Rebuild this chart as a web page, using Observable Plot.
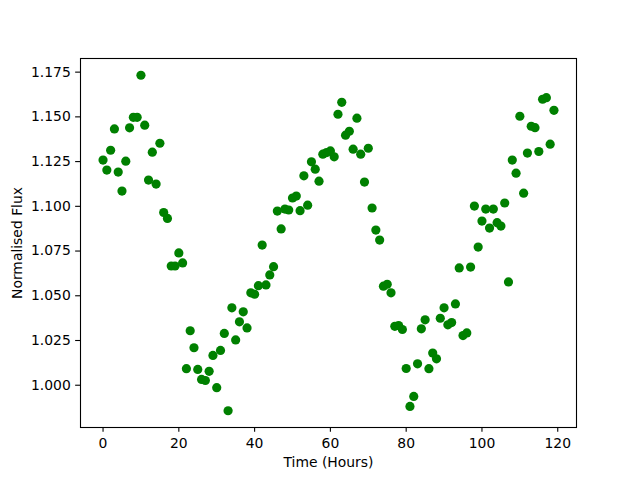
<!DOCTYPE html>
<html>
<head>
<meta charset="utf-8">
<script src="https://cdn.jsdelivr.net/npm/d3@7"></script>
<script src="https://cdn.jsdelivr.net/npm/@observablehq/plot@0.6"></script>
<style>
  html, body { margin: 0; padding: 0; background: white; }
</style>
</head>
<body>
<div id="chart"></div>
<script>
const hours = [
  0, 1, 2, 3, 4, 5, 6, 7, 8, 9,
  10, 11, 12, 13, 14, 15, 16, 17, 18, 19,
  20, 21, 22, 23, 24, 25, 26, 27, 28, 29,
  30, 31, 32, 33, 34, 35, 36, 37, 38, 39,
  40, 41, 42, 43, 44, 45, 46, 47, 48, 49,
  50, 51, 52, 53, 54, 55, 56, 57, 58, 59,
  60, 61, 62, 63, 64, 65, 66, 67, 68, 69,
  70, 71, 72, 73, 74, 75, 76, 77, 78, 79,
  80, 81, 82, 83, 84, 85, 86, 87, 88, 89,
  90, 91, 92, 93, 94, 95, 96, 97, 98, 99,
  100, 101, 102, 103, 104, 105, 106, 107, 108, 109,
  110, 111, 112, 113, 114, 115, 116, 117, 118, 119
];

const flux = [
  1.1254, 1.1198, 1.1309, 1.1428, 1.1187, 1.1081, 1.1248, 1.1434, 1.1493, 1.1493,
  1.1728, 1.1449, 1.1142, 1.1298, 1.1120, 1.1348, 1.0961, 1.0928, 1.0662, 1.0662,
  1.0735, 1.0679, 1.0088, 1.0300, 1.0205, 1.0084, 1.0028, 1.0022, 1.0073, 1.0162,
  0.9982, 1.0190, 1.0285, 0.9853, 1.0428, 1.0249, 1.0350, 1.0406, 1.0316, 1.0512,
  1.0504, 1.0552, 1.0779, 1.0556, 1.0612, 1.0658, 1.0969, 1.0869, 1.0980, 1.0975,
  1.1042, 1.1053, 1.0971, 1.1166, 1.1002, 1.1244, 1.1203, 1.1136, 1.1287, 1.1296,
  1.1305, 1.1272, 1.1510, 1.1577, 1.1393, 1.1415, 1.1315, 1.1488, 1.1287, 1.1131,
  1.1320, 1.0986, 1.0863, 1.0807, 1.0549, 1.0560, 1.0512, 1.0325, 1.0329, 1.0307,
  1.0089, 0.9877, 0.9933, 1.0115, 1.0311, 1.0361, 1.0088, 1.0175, 1.0143, 1.0370,
  1.0428, 1.0333, 1.0346, 1.0450, 1.0651, 1.0273, 1.0288, 1.0656, 1.0997, 1.0768,
  1.0913, 1.0980, 1.0874, 1.0980, 1.0904, 1.0885, 1.1014, 1.0573, 1.1254, 1.1181,
  1.1499, 1.1069, 1.1293, 1.1443, 1.1435, 1.1302, 1.1594, 1.1603, 1.1343, 1.1532
];

const xTicks = [0, 20, 40, 60, 80, 100, 120];
const yTicks = [1.000, 1.025, 1.050, 1.075, 1.100, 1.125, 1.150, 1.175];
const xLabel = "Time (Hours)";
const yLabel = "Normalised Flux";

const data = hours.map((h, i) => ({hour: h, flux: flux[i]}));

const xMin = d3.min(hours), xMax = d3.max(hours);
const yMin = d3.min(flux), yMax = d3.max(flux);
const xPad = (xMax - xMin) * 0.05, yPad = (yMax - yMin) * 0.05;

const fs = 13.9;

const chart = Plot.plot({
  width: 640,
  height: 480,
  marginLeft: 80,
  marginRight: 64,
  marginTop: 58,
  marginBottom: 53,
  style: {background: "white", fontFamily: "'DejaVu Sans', sans-serif", fontSize: fs + "px", color: "black"},
  x: {domain: [xMin - xPad, xMax + xPad]},
  y: {domain: [yMin - yPad, yMax + yPad]},
  marks: [
    Plot.dot(data, {x: "hour", y: "flux", r: 4.6, fill: "#008000", stroke: "none"}),
    Plot.frame({stroke: "black", strokeWidth: 1.1}),
    Plot.axisX({ticks: xTicks, tickSize: 4.86, tickPadding: 5.5, strokeWidth: 1.1, label: null, tickFormat: d => String(d), fontSize: fs}),
    Plot.axisY({ticks: yTicks, tickSize: 4.86, tickPadding: 4.86, strokeWidth: 1.1, label: null, tickFormat: d3.format(".3f"), fontSize: fs, dy: 0.8}),
    Plot.text([xLabel], {frameAnchor: "bottom", dy: 29.8, lineAnchor: "top", textAnchor: "middle", fontSize: fs, fill: "black"}),
    Plot.text([yLabel], {frameAnchor: "left", dx: -62.75, rotate: -90, lineAnchor: "middle", textAnchor: "middle", fontSize: fs, fill: "black"})
  ]
});

document.getElementById("chart").appendChild(chart);
</script>
</body>
</html>
